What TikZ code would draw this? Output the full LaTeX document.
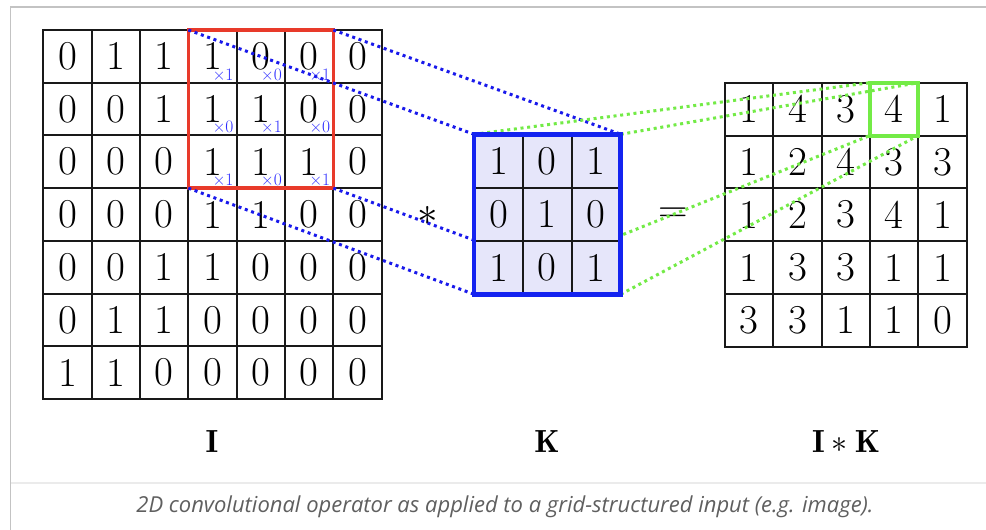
\RequirePackage{fix-cm}
\documentclass[tikz,border=0pt]{standalone}
\usepackage{fontspec}
\usetikzlibrary{fit}
\newfontfamily\capfont{Open Sans}
\definecolor{redb}{RGB}{232,58,42}
\definecolor{pinkf}{RGB}{241,180,178}
\definecolor{blueb}{RGB}{20,35,240}
\definecolor{lavf}{RGB}{230,230,250}
\definecolor{dotblue}{RGB}{25,25,235}
\definecolor{greenb}{RGB}{115,235,70}
\definecolor{greenf}{RGB}{200,248,185}
\definecolor{multblue}{RGB}{45,45,255}
\definecolor{capgray}{RGB}{95,95,95}
\definecolor{framegray}{RGB}{195,195,195}
\definecolor{sepgray}{RGB}{235,235,235}
\pgfdeclarelayer{background}
\pgfdeclarelayer{lines}
\pgfdeclarelayer{front}
\pgfsetlayers{background,main,lines,front}
\begin{document}
\begin{tikzpicture}[x=1pt,y=-1pt,
 digit/.style={font=\fontsize{41}{41}\selectfont},
 cellI/.style={digit,draw=black!90,line width=2pt,minimum width=48.34pt,minimum height=52.71pt,inner sep=0pt,outer sep=0pt},
 cellK/.style={digit,draw=black!90,fill=lavf,line width=2pt,minimum width=48.9pt,minimum height=53.33pt,inner sep=0pt,outer sep=0pt},
 cellO/.style={digit,draw=black!90,line width=2pt,minimum width=48.34pt,minimum height=52.8pt,inner sep=0pt,outer sep=0pt},
 multlbl/.style={font=\fontsize{17.5}{17.5}\selectfont,text=multblue,inner sep=0pt,anchor=base east},
 bluedots/.style={draw=dotblue,line width=3pt,dash pattern=on 3pt off 3.7pt},
 greendots/.style={draw=greenb,line width=3pt,dash pattern=on 3pt off 3.7pt},
 lbl/.style={font=\fontsize{32}{32}\selectfont,anchor=base},
 redbox/.style={draw=redb,line width=3.6pt,inner sep=0pt,outer sep=0pt},
 bluebox/.style={draw=blueb,line width=4.5pt,inner sep=0pt,outer sep=0pt},
 greenbox/.style={draw=greenb,line width=4pt,inner sep=0pt,outer sep=0pt},
]
\useasboundingbox (0,0) rectangle (986,530);
\fill[white] (0,0) rectangle (986,530);
% frame
\draw[framegray,line width=1.2pt] (10.5,530) -- (10.5,7) -- (986,7);
\draw[sepgray,line width=2pt] (11,482.5) -- (986,482.5);
% input grid
\foreach \row [count=\r] in {{0,1,1,1,0,0,0},{0,0,1,1,1,0,0},{0,0,0,1,1,1,0},{0,0,0,1,1,0,0},{0,0,1,1,0,0,0},{0,1,1,0,0,0,0},{1,1,0,0,0,0,0}}
  \foreach \v [count=\c] in \row
    \node[cellI] (I-\r-\c) at ({43.3+(\c-0.5)*48.34},{30+(\r-0.5)*52.71}) {\v};
\node[redbox,fit=(I-1-4)(I-3-6)] (R) {};
\foreach \r/\c/\m in {1/4/1,1/5/0,1/6/1,2/4/0,2/5/1,2/6/0,3/4/1,3/5/0,3/6/1}
  \node[multlbl] (m-\r-\c) at ([xshift=-3pt,yshift=2.5pt]I-\r-\c.south east) {×\m};
% output grid
\foreach \row [count=\r] in {{1,4,3,4,1},{1,2,4,3,3},{1,2,3,4,1},{1,3,3,1,1},{3,3,1,1,0}}
  \foreach \v [count=\c] in \row
    \node[cellO] (O-\r-\c) at ({725+(\c-0.5)*48.34},{82.7+(\r-0.5)*52.8}) {\v};
\node[greenbox,fit=(O-1-4)] (G) {};
\begin{pgfonlayer}{background}
\fill[pinkf] (I-1-4.north west) rectangle (I-3-6.south east);
\fill[greenf] (O-1-4.north west) rectangle (O-1-4.south east);
\end{pgfonlayer}
% kernel
\begin{pgfonlayer}{front}
\foreach \row [count=\r] in {{1,0,1},{0,1,0},{1,0,1}}
  \foreach \v [count=\c] in \row
    \node[cellK] (K-\r-\c) at ({474+(\c-0.5)*48.9},{134.3+(\r-0.5)*53.33}) {\v};
\node[bluebox,fit=(K-1-1)(K-3-3)] (K) {};
\end{pgfonlayer}
% connectors
\begin{pgfonlayer}{lines}
\draw[bluedots] (R.north west) -- (K.north west);
\draw[bluedots] (R.north east) -- (K.north east);
\draw[bluedots] (R.south west) -- (K.south west);
\draw[bluedots] (R.south east) -- (K.south east);
\draw[greendots] (K.north west) -- (G.north west);
\draw[greendots] (K.north east) -- (G.north east);
\draw[greendots] (K.south west) -- (G.south west);
\draw[greendots] (K.south east) -- (G.south east);
\end{pgfonlayer}
% operators and labels
\node[digit] (star) at (428,216) {$*$};
\node[digit] (eq) at (673,215) {$=$};
\node[lbl] (lI) at (212,452) {$\mathbf{I}$};
\node[lbl] (lK) at (547,452) {$\mathbf{K}$};
\node[lbl] (lIK) at (846,452) {$\mathbf{I}*\mathbf{K}$};
\node[font=\capfont\itshape\fontsize{22}{24}\selectfont,text=capgray] (cap) at (505,507) {2D convolutional operator as applied to a grid-structured input (e.g. image).};
\end{tikzpicture}
\end{document}
